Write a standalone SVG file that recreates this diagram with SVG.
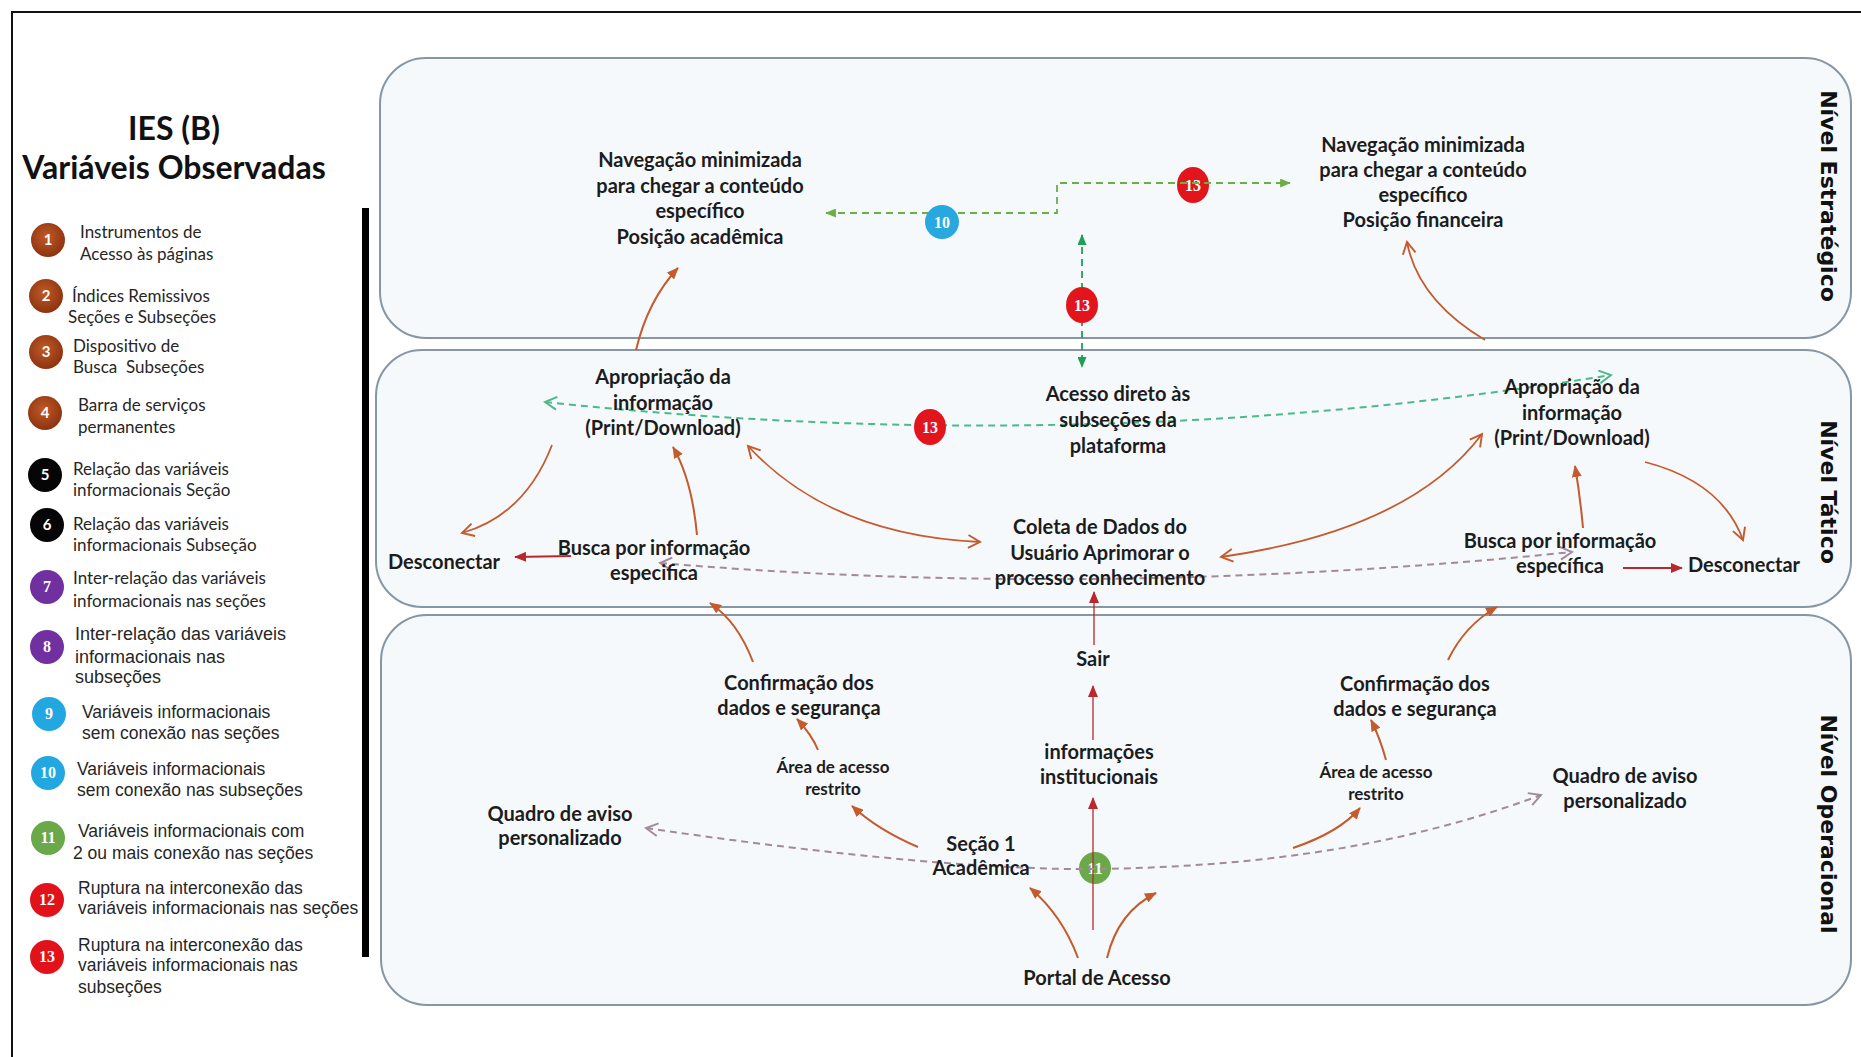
<svg xmlns="http://www.w3.org/2000/svg" width="1861" height="1057" viewBox="0 0 1861 1057">
<defs>
<style>
.panel{fill:#f5f9fc;stroke:#8796a5;stroke-width:2}
.lvl{font-family:"DejaVu Sans",sans-serif;font-weight:bold;font-size:22px;fill:#111;text-anchor:middle}
.nd{font-family:Lato,"Liberation Sans",sans-serif;font-weight:bold;font-size:20px;fill:#1c1c1c;text-anchor:middle}
.sm{font-size:17px}
.ttl{font-family:Lato,"Liberation Sans",sans-serif;font-weight:bold;font-size:32px;fill:#111;text-anchor:middle}
.lg{font-family:Lato,"Liberation Sans",sans-serif;font-size:17px;fill:#262626}
.lga{font-family:"Liberation Sans",Arial,sans-serif;font-size:17.5px;fill:#262626}
.num{font-family:"Liberation Serif",serif;font-weight:bold;font-size:16px;fill:#fff;text-anchor:middle}
.nums{font-family:Lato,sans-serif;font-weight:bold;font-size:15px;fill:#fff;text-anchor:middle}
.orf{fill:none;stroke:#c55a2d;stroke-width:2;marker-end:url(#aOr)}
.oro{fill:none;stroke:#c55a2d;stroke-width:1.8;marker-end:url(#vOr)}
.orb{fill:none;stroke:#c55a2d;stroke-width:1.8;marker-start:url(#vOr);marker-end:url(#vOr)}
.dr{fill:none;stroke:#b8282c;stroke-width:2;marker-end:url(#aRed)}
.drt{fill:none;stroke:#b8282c;stroke-width:1.3;marker-end:url(#aRed)}
.dgr{fill:none;stroke:#6cae46;stroke-width:1.8;stroke-dasharray:7 5;marker-start:url(#aGreen);marker-end:url(#aGreen)}
.dgv{fill:none;stroke:#1f9e57;stroke-width:1.8;stroke-dasharray:7 5;marker-start:url(#aGreen2);marker-end:url(#aGreen2)}
.dtl{fill:none;stroke:#4cb98b;stroke-width:2;stroke-dasharray:7 5;marker-start:url(#vTeal);marker-end:url(#vTeal)}
.dmv{fill:none;stroke:#a3899b;stroke-width:2;stroke-dasharray:7 5;marker-start:url(#vMauve);marker-end:url(#vMauve)}
</style>
<radialGradient id="gBrown" cx="0.45" cy="0.4" r="0.6">
<stop offset="0" stop-color="#c05a26"/>
<stop offset="1" stop-color="#8c3311"/>
</radialGradient>
<marker id="aOr" viewBox="0 0 12 10" refX="11" refY="5" markerWidth="12" markerHeight="10" markerUnits="userSpaceOnUse" orient="auto-start-reverse">
<path d="M0,0 L12,5 L0,10 z" fill="#c55a2d"/>
</marker>
<marker id="aRed" viewBox="0 0 12 10" refX="11" refY="5" markerWidth="12" markerHeight="10" markerUnits="userSpaceOnUse" orient="auto-start-reverse">
<path d="M0,0 L12,5 L0,10 z" fill="#b8282c"/>
</marker>
<marker id="vOr" viewBox="0 0 14 14" refX="12" refY="7" markerWidth="15" markerHeight="15" markerUnits="userSpaceOnUse" orient="auto-start-reverse">
<path d="M1,1 L12,7 L1,13" fill="none" stroke="#c55a2d" stroke-width="1.8"/>
</marker>
<marker id="aGreen" viewBox="0 0 12 10" refX="11" refY="5" markerWidth="11" markerHeight="9" markerUnits="userSpaceOnUse" orient="auto-start-reverse">
<path d="M0,0 L12,5 L0,10 z" fill="#6cae46"/>
</marker>
<marker id="aGreen2" viewBox="0 0 12 10" refX="11" refY="5" markerWidth="11" markerHeight="9" markerUnits="userSpaceOnUse" orient="auto-start-reverse">
<path d="M0,0 L12,5 L0,10 z" fill="#1f9e57"/>
</marker>
<marker id="vTeal" viewBox="0 0 14 14" refX="12" refY="7" markerWidth="15" markerHeight="15" markerUnits="userSpaceOnUse" orient="auto-start-reverse">
<path d="M1,1 L12,7 L1,13" fill="none" stroke="#4cb98b" stroke-width="1.8"/>
</marker>
<marker id="vMauve" viewBox="0 0 14 14" refX="12" refY="7" markerWidth="15" markerHeight="15" markerUnits="userSpaceOnUse" orient="auto-start-reverse">
<path d="M1,1 L12,7 L1,13" fill="none" stroke="#a3899b" stroke-width="1.8"/>
</marker>
</defs>

<rect width="1861" height="1057" fill="#ffffff"/>
<!-- outer frame -->
<path d="M12,1057 L12,12 L1861,12" fill="none" stroke="#111" stroke-width="2"/>

<!-- legend -->
<g id="legend">
<text class="ttl" x="174" y="140">IES (B)</text>
<text class="ttl" x="174" y="179">Variáveis Observadas</text>
<rect x="362" y="208" width="7" height="749" fill="#000"/>

<g id="leg1"><circle cx="48" cy="240" r="17" fill="url(#gBrown)"/><text class="nums" x="48" y="245">1</text>
<text class="lg" x="80" y="238">Instrumentos de</text><text class="lg" x="80" y="260">Acesso às páginas</text></g>
<g id="leg2"><circle cx="46" cy="296" r="17" fill="url(#gBrown)"/><text class="nums" x="46" y="301">2</text>
<text class="lg" x="72" y="302">Índices Remissivos</text><text class="lg" x="68" y="323">Seções e Subseções</text></g>
<g id="leg3"><circle cx="46" cy="352" r="17" fill="url(#gBrown)"/><text class="nums" x="46" y="357">3</text>
<text class="lg" x="73" y="352">Dispositivo de</text><text class="lg" x="73" y="373">Busca&#160; Subseções</text></g>
<g id="leg4"><circle cx="45" cy="413" r="17" fill="url(#gBrown)"/><text class="nums" x="45" y="418">4</text>
<text class="lg" x="78" y="411">Barra de serviços</text><text class="lg" x="78" y="433">permanentes</text></g>
<g id="leg5"><circle cx="45" cy="475" r="17" fill="#050505"/><text class="nums" x="45" y="480">5</text>
<text class="lg" x="73" y="475">Relação das variáveis</text><text class="lg" x="73" y="496">informacionais Seção</text></g>
<g id="leg6"><circle cx="47" cy="525" r="17" fill="#050505"/><text class="nums" x="47" y="530">6</text>
<text class="lg" x="73" y="530">Relação das variáveis</text><text class="lg" x="73" y="551">informacionais Subseção</text></g>
<g id="leg7"><circle cx="47" cy="587" r="17" fill="#7030a0"/><text class="num" x="47" y="592">7</text>
<text class="lg" x="73" y="584">Inter-relação das variáveis</text><text class="lg" x="73" y="607">informacionais nas seções</text></g>
<g id="leg8"><circle cx="47" cy="647" r="17" fill="#7030a0"/><text class="num" x="47" y="652">8</text>
<text class="lga" x="75" y="640" style="font-size:18px">Inter-relação das variáveis</text><text class="lga" x="75" y="663" style="font-size:18px">informacionais nas</text><text class="lga" x="75" y="683" style="font-size:18px">subseções</text></g>
<g id="leg9"><circle cx="49" cy="714" r="17" fill="#22a7e0"/><text class="num" x="49" y="719">9</text>
<text class="lga" x="82" y="718">Variáveis informacionais</text><text class="lga" x="82" y="739">sem conexão nas seções</text></g>
<g id="leg10"><circle cx="48" cy="773" r="17" fill="#22a7e0"/><text class="num" x="48" y="778">10</text>
<text class="lga" x="77" y="775">Variáveis informacionais</text><text class="lga" x="77" y="796">sem conexão nas subseções</text></g>
<g id="leg11"><circle cx="48" cy="838" r="17" fill="#6aa84a"/><text class="num" x="48" y="843">11</text>
<text class="lga" x="78" y="837">Variáveis informacionais com</text><text class="lga" x="73" y="859">2 ou mais conexão nas seções</text></g>
<g id="leg12"><circle cx="47" cy="900" r="17" fill="#e2121b"/><text class="num" x="47" y="905">12</text>
<text class="lga" x="78" y="894">Ruptura na interconexão das</text><text class="lga" x="78" y="914">variáveis informacionais nas seções</text></g>
<g id="leg13"><circle cx="47" cy="957" r="17" fill="#e2121b"/><text class="num" x="47" y="962">13</text>
<text class="lga" x="78" y="951">Ruptura na interconexão das</text><text class="lga" x="78" y="971">variáveis informacionais nas</text><text class="lga" x="78" y="993">subseções</text></g>
</g>

<!-- level panels -->
<g id="nivel-estrategico">
<rect class="panel" x="380" y="58" width="1471" height="280" rx="46" ry="46"/>
<text class="lvl" transform="translate(1821,196) rotate(90)">Nível Estratégico</text>
</g>
<g id="nivel-tatico">
<rect class="panel" x="376" y="350" width="1475" height="257" rx="46" ry="46"/>
<text class="lvl" transform="translate(1821,492) rotate(90)">Nível Tático</text>
</g>
<g id="nivel-operacional">
<rect class="panel" x="381" y="615" width="1470" height="390" rx="46" ry="46"/>
<text class="lvl" transform="translate(1821,824) rotate(90)">Nível Operacional</text>
</g>

<!-- badges crossed by their lines -->
<g id="badge-11"><circle cx="1095" cy="868" r="16" fill="#6aa84a"/><text class="num" x="1095" y="874">11</text></g>
<g id="badge-13a"><ellipse cx="1193" cy="185" rx="16" ry="18" fill="#e2151d"/><text class="num" x="1193" y="191">13</text></g>

<!-- connectors -->
<g id="connectors">
<path class="orf" d="M636,350 Q648,300 678,268"/>
<path class="orf" d="M697,535 Q692,480 673,447"/>
<path class="orf" d="M753,662 Q738,622 710,603"/>
<path class="orf" d="M818,750 Q812,735 797,719"/>
<path class="orf" d="M918,847 Q878,830 852,806"/>
<path class="orf" d="M1078,958 Q1062,915 1030,888"/>
<path class="orf" d="M1107,958 Q1118,912 1156,893"/>
<path class="orf" d="M1293,848 Q1340,832 1360,808"/>
<path class="orf" d="M1386,760 Q1380,738 1371,720"/>
<path class="orf" d="M1448,660 Q1465,625 1497,607"/>
<path class="orf" d="M1583,528 Q1580,495 1575,466"/>
<path class="oro" d="M552,445 Q525,515 462,533"/>
<path class="orb" d="M748,446 Q830,535 980,542"/>
<path class="orb" d="M1221,557 Q1410,530 1482,434"/>
<path class="oro" d="M1645,462 Q1722,482 1743,540"/>
<path class="oro" d="M1485,340 Q1418,300 1407,242"/>
<path class="dr" d="M571,556 L515,557"/>
<path class="dr" d="M1623,568 L1682,568"/>
<path class="drt" d="M1093,740 L1093,686"/>
<path class="drt" d="M1093,930 L1093,798"/>
<path class="drt" d="M1094,645 L1094,592"/>
<path class="dgr" d="M826,213 L1057,213 L1057,183 L1290,183"/>
<path class="dgv" d="M1082,235 L1082,367"/>
<path class="dtl" d="M545,402 Q1090,460 1611,375"/>
<path class="dmv" d="M660,563 Q1100,600 1572,552"/>
<path class="dmv" d="M646,828 C850,858 1000,870 1095,869 C1250,867 1400,848 1541,795"/>
</g>

<!-- badges drawn over their lines -->
<g id="badge-10"><circle cx="942" cy="222" r="17" fill="#29a8e0"/><text class="num" x="942" y="228">10</text></g>
<g id="badge-13b"><ellipse cx="1082" cy="305" rx="16" ry="18" fill="#e2151d"/><text class="num" x="1082" y="311">13</text></g>
<g id="badge-13c"><ellipse cx="930" cy="427" rx="16" ry="18" fill="#e2151d"/><text class="num" x="930" y="433">13</text></g>

<!-- strategic level nodes -->
<g id="nav-academica"><text class="nd" x="700" y="167">Navegação minimizada</text><text class="nd" x="700" y="192.5">para chegar a conteúdo</text><text class="nd" x="700" y="218">específico</text><text class="nd" x="700" y="243.5">Posição acadêmica</text></g>
<g id="nav-financeira"><text class="nd" x="1423" y="152">Navegação minimizada</text><text class="nd" x="1423" y="177">para chegar a conteúdo</text><text class="nd" x="1423" y="202">específico</text><text class="nd" x="1423" y="227">Posição financeira</text></g>

<!-- tactical level nodes -->
<g id="apropriacao-esq"><text class="nd" x="663" y="384">Apropriação da</text><text class="nd" x="663" y="410">informação</text><text class="nd" x="663" y="435">(Print/Download)</text></g>
<g id="acesso-direto"><text class="nd" x="1118" y="401">Acesso direto às</text><text class="nd" x="1118" y="427">subseções da</text><text class="nd" x="1118" y="453">plataforma</text></g>
<g id="apropriacao-dir"><text class="nd" x="1572" y="394">Apropriação da</text><text class="nd" x="1572" y="420">informação</text><text class="nd" x="1572" y="445">(Print/Download)</text></g>
<g id="coleta-dados"><text class="nd" x="1100" y="534">Coleta de Dados do</text><text class="nd" x="1100" y="560">Usuário Aprimorar o</text><text class="nd" x="1100" y="585">processo conhecimento</text></g>
<g id="desconectar-esq"><text class="nd" x="444" y="569">Desconectar</text></g>
<g id="busca-esq"><text class="nd" x="654" y="555">Busca por informação</text><text class="nd" x="654" y="580">especifica</text></g>
<g id="busca-dir"><text class="nd" x="1560" y="548">Busca por informação</text><text class="nd" x="1560" y="573">específica</text></g>
<g id="desconectar-dir"><text class="nd" x="1744" y="572">Desconectar</text></g>

<!-- operational level nodes -->
<g id="sair"><text class="nd" x="1093" y="666">Sair</text></g>
<g id="info-institucionais"><text class="nd" x="1099" y="759">informações</text><text class="nd" x="1099" y="784">institucionais</text></g>
<g id="secao-academica"><text class="nd" x="981" y="851">Seção 1</text><text class="nd" x="981" y="875">Acadêmica</text></g>
<g id="portal-acesso"><text class="nd" x="1097" y="985">Portal de Acesso</text></g>
<g id="confirmacao-esq"><text class="nd" x="799" y="690">Confirmação dos</text><text class="nd" x="799" y="715">dados e segurança</text></g>
<g id="area-restrita-esq"><text class="nd sm" x="833" y="773">Área de acesso</text><text class="nd sm" x="833" y="795">restrito</text></g>
<g id="quadro-aviso-esq"><text class="nd" x="560" y="821">Quadro de aviso</text><text class="nd" x="560" y="845">personalizado</text></g>
<g id="confirmacao-dir"><text class="nd" x="1415" y="691">Confirmação dos</text><text class="nd" x="1415" y="716">dados e segurança</text></g>
<g id="area-restrita-dir"><text class="nd sm" x="1376" y="778">Área de acesso</text><text class="nd sm" x="1376" y="800">restrito</text></g>
<g id="quadro-aviso-dir"><text class="nd" x="1625" y="783">Quadro de aviso</text><text class="nd" x="1625" y="808">personalizado</text></g>
</svg>
